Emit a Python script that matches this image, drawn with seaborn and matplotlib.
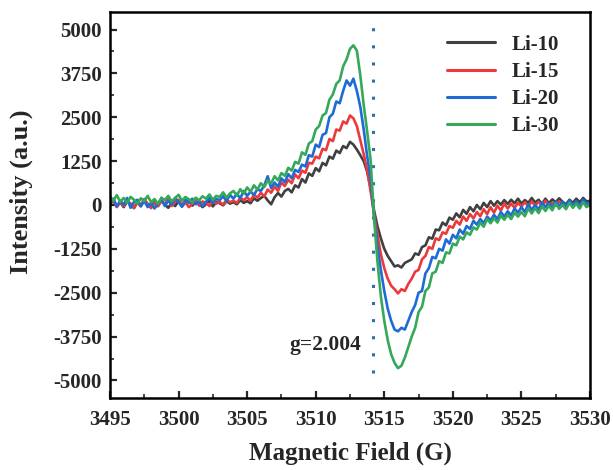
import numpy as np
import pandas as pd
import matplotlib
matplotlib.use("Agg")
import matplotlib.pyplot as plt
import seaborn as sns

# Magnetic field grid (G), 0.25 G steps from 3495 to 3530
field = np.linspace(3495, 3530, 141)

li10 = [
    30, 120, -50, 80,   -60, 100, 20, -90,   80, -40, 150, 30,   -60, 90, -20, 130,
    10, -80, 60, -30,   110, -40, 70, 160,   -20, 90, 40, -60,   20, 130, -40, 80,
    50, -10, 110, 40,   80, 20, 140, 60,   110, 50, 190, 120,   200, 260, 130, 20,
    220, 340, 240, 400,   460, 360, 560, 500,   740, 640, 900, 830,   1050, 960, 1200, 1130,
    1380, 1320, 1550, 1480,   1680, 1620, 1800, 1720,   1580, 1420, 1250, 950,
    500, -150, -600, -950,   -1250, -1450, -1600, -1750,   -1720, -1780, -1650, -1600,
    -1550, -1380, -1420, -1200,   -1150, -920, -960, -700,   -720, -500, -580, -360,
    -420, -240, -350, -140,   -250, -60, -180, 0,   -120, 60, -60, 110,
    -20, 110, 10, 140,   30, 150, 50, 180,   40, 140, 60, 200,   70, 150, 30, 180,
    50, 160, 80, 190,   90, 20, 150, 60,   180, 80, 200, 100,   120]

li15 = [
    40, 150, -60, 90,   -30, 120, 40, -80,   100, -20, 170, 20,   -90, 60, -40, 110,
    20, 180, -30, 90,   150, 10, 80, -60,   30, 140, -20, 100,   60, -30, 120, 40,
    90, 10, 150, 80,   120, 60, 200, 140,   220, 120, 300, 210,   350, 240, 440, 350,
    520, 400, 640, 540,   720, 620, 870, 760,   980, 920, 1200, 1180,   1380, 1330, 1600, 1560,
    1880, 1820, 2150, 2120,   2380, 2320, 2550, 2470,   2250, 1850, 1450, 1000,
    400, -250, -850, -1400,   -1800, -2100, -2300, -2400,   -2520, -2400, -2450, -2250,
    -2100, -1900, -1850, -1550,   -1450, -1200, -1250, -950,   -1000, -780, -820, -600,
    -650, -450, -560, -330,   -450, -260, -380, -200,   -320, -120, -260, -60,
    -220, -20, -160, 40,   -100, 40, -80, 60,   -40, 80, -30, 100,   -20, 90, 0, 120,
    -40, 60, -20, 110,   30, -40, 80, -20,   60, -30, 100, -40,   0]

li20 = [
    60, 180, -40, 120,   10, 200, -80, 90,   150, -20, 110, -60,   60, -100, 40, 170,
    -30, 120, 20, 200,   80, -50, 150, 60,   180, 20, 110, -30,   90, 200, 60, 170,
    140, 250, 110, 290,   180, 320, 190, 400,   260, 380, 290, 450,   400, 560, 820, 480,
    640, 520, 760, 650,   880, 760, 1000, 940,   1150, 1100, 1420, 1380,   1720, 1650, 2000, 2050,
    2500, 2600, 2950, 2900,   3250, 3550, 3400, 3600,   3250, 2800, 2150, 1400,
    750, -300, -1150, -1850,   -2450, -2950, -3300, -3550,   -3600, -3500, -3550, -3300,
    -3050, -2850, -2500, -2450,   -1950, -1800, -1480, -1520,   -1250, -1300, -980, -1100,
    -850, -950, -700, -820,   -600, -680, -450, -560,   -400, -520, -330, -440,
    -280, -400, -200, -330,   -180, -300, -100, -220,   -60, -200, 20, -140,   0, -130, 80, -60,
    60, -80, 100, -30,   90, -40, 130, 0,   110, -20, 150, 30,   60]

li30 = [
    250, 120, 280, 90,   200, 60, 230, 150,   40, 190, 110, 260,   80, 170, 30, 210,
    140, 260, 100, 200,   290, 120, 230, 160,   70, 210, 130, 250,   180, 300, 150, 260,
    230, 360, 210, 330,   400, 270, 450, 320,   500, 380, 560, 440,   620, 510, 700, 610,
    820, 700, 910, 830,   1060, 980, 1230, 1180,   1500, 1430, 1750, 1820,   2150, 2250, 2550, 2620,
    3000, 3150, 3450, 3550,   3950, 4150, 4450, 4550,   4400, 3700, 2850, 2100,
    1300, -350, -1600, -2600,   -3300, -3850, -4250, -4500,   -4650, -4580, -4350, -4050,
    -3750, -3500, -3050, -2900,   -2450, -2350, -1950, -1900,   -1600, -1650, -1350, -1380,
    -1100, -1150, -900, -980,   -780, -850, -640, -700,   -500, -620, -400, -520,
    -380, -500, -300, -420,   -280, -400, -220, -330,   -200, -320, -100, -240,   -90, -230, -40, -170,
    -20, -150, 40, -110,   0, -120, 60, -80,   40, -100, 80, -60,   20]

series_names = ["Li-10", "Li-15", "Li-20", "Li-30"]
colors = ["#404040", "#ec3a3c", "#1f6bd6", "#35a85a"]
yticks = [-5000, -3750, -2500, -1250, 0, 1250, 2500, 3750, 5000]
xticks = [3495, 3500, 3505, 3510, 3515, 3520, 3525, 3530]
g_field = 3514.2
g_label = "g=2.004"

df = pd.concat([
    pd.DataFrame({"field": field, "intensity": vals, "sample": name})
    for name, vals in zip(series_names, [li10, li15, li20, li30])
])

sns.set_theme(style="ticks")
plt.rcParams["font.family"] = ["Liberation Serif", "DejaVu Serif"]
plt.rcParams["font.weight"] = "bold"
plt.rcParams["axes.labelweight"] = "bold"
plt.rcParams["axes.unicode_minus"] = False

fig = plt.figure(figsize=(6.13, 4.70), dpi=100)
ax = fig.add_axes([0.1794, 0.1532, 0.7831, 0.8213])

sns.lineplot(data=df, x="field", y="intensity", hue="sample",
             palette=colors, linewidth=1.9, ax=ax, sort=False, estimator=None)

ax.plot([g_field, g_field], [-4800, 5100], color="#2d6ea8",
        linestyle=(0, (1, 4.6)), linewidth=2.2, zorder=1)
ax.text(3513.3, -4000, g_label, fontsize=15.5, fontweight="bold",
        ha="right", va="center")

ax.set_xlim(3495, 3530)
ax.set_ylim(-5500, 5500)
ax.set_xticks(xticks)
ax.set_yticks(yticks)
ax.set_xticks(np.array(xticks[:-1]) + 2.5, minor=True)
ax.set_yticks(np.array(yticks[:-1]) + 625, minor=True)
ax.tick_params(axis="both", which="major", direction="in", length=5, width=1.6,
               labelsize=15, top=False, right=False)
ax.tick_params(axis="both", which="minor", direction="in", length=3, width=1.2,
               top=False, right=False)
ax.tick_params(axis="x", pad=9)
ax.tick_params(axis="y", pad=6)
for lab in ax.get_xticklabels() + ax.get_yticklabels():
    lab.set_fontweight("bold")
for sp in ax.spines.values():
    sp.set_visible(True)
    sp.set_linewidth(1.8)
    sp.set_color("black")

ax.set_xlabel("Magnetic Field (G)", fontsize=18, fontweight="bold", labelpad=8)
ax.set_ylabel("Intensity (a.u.)", fontsize=19, fontweight="bold")
ax.yaxis.set_label_coords(-0.160, 0.534)

leg = ax.legend(loc="upper right", frameon=False, fontsize=15,
                handlelength=2.3, labelspacing=0.35,
                bbox_to_anchor=(0.975, 0.99))
for t in leg.get_texts():
    t.set_fontweight("bold")
for h in leg.get_lines():
    h.set_linewidth(2.2)

fig.savefig("out.png", dpi=100)
